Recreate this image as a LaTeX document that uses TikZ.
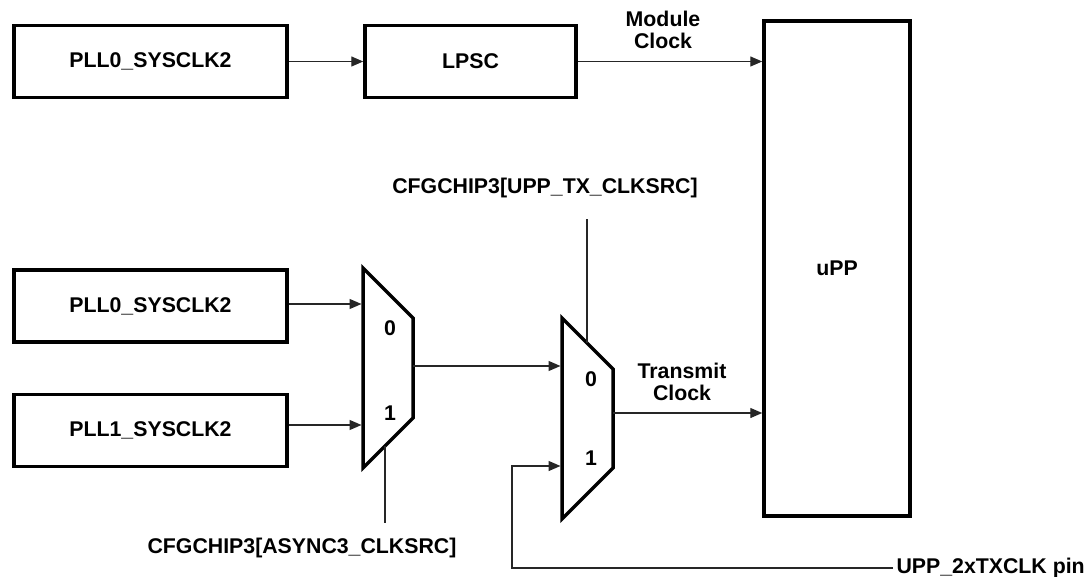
\documentclass[tikz,border=0pt]{standalone}
\usepackage{fontspec}
\setmainfont{Liberation Sans}
\usetikzlibrary{arrows.meta}

\newcommand\lblfont{\fontsize{21.3}{22.5}\selectfont\bfseries}

\tikzset{
  blk/.style={draw,line width=3.5pt,minimum width=#1,minimum height=72pt,inner sep=0pt,font=\lblfont},
  conn/.style={line width=1.3pt,draw=black!85},
  sig/.style={conn,-{Triangle[length=12pt,width=10pt]}},
  mux/.style={line width=3.5pt},
  lbl/.style={font=\lblfont,align=center}
}

\begin{document}
\begin{tikzpicture}[x=1pt,y=-1pt]
\useasboundingbox (0,0) rectangle (1092,577);

% blocks
\node[blk=273pt] (pllA) at (150.5,61.5) {PLL0\_SYSCLK2};
\node[blk=211pt] (lpsc) at (470.5,61.5) {LPSC};
\node[blk=146pt,minimum height=495pt] (upp) at (837,268.5) {uPP};
\node[blk=273pt] (pllB) at (150.5,306) {PLL0\_SYSCLK2};
\node[blk=273pt] (pllC) at (150.5,430.5) {PLL1\_SYSCLK2};

% multiplexers
\draw[mux] (363,268) -- (413,318) -- (413,418) -- (363,468) -- cycle;
\draw[mux] (562,318) -- (613,369) -- (613,468) -- (562,519) -- cycle;
\node[lbl] (m1zero) at (390,328) {0};
\node[lbl] (m1one) at (390,413) {1};
\node[lbl] (m2zero) at (591,379) {0};
\node[lbl] (m2one) at (591,458) {1};

% ports
\coordinate (m1in0) at (363,304);
\coordinate (m1in1) at (363,425);
\coordinate (m1out) at (413,366);
\coordinate (m1sel) at (385,446);
\coordinate (m1selend) at (385,523);
\coordinate (m2in0) at (562,366);
\coordinate (m2in1) at (562,466);
\coordinate (m2out) at (613,413);
\coordinate (m2sel) at (587,343);
\coordinate (m2selend) at (587,219);
\coordinate (pinbend) at (512,568);

% labels
\node[lbl] (modclk) at (663,30) {Module\\Clock};
\node[lbl] (txclk) at (682,382) {Transmit\\Clock};
\node[lbl] (txsel) at (545,188) {CFGCHIP3[UPP\_TX\_CLKSRC]};
\node[lbl] (asel) at (302,548) {CFGCHIP3[ASYNC3\_CLKSRC]};
\node[lbl,anchor=west] (pin) at (893,568) {UPP\_2xTXCLK pin};

% connections
\draw[sig] (pllA) -- (lpsc);
\draw[sig] (lpsc.east) -- (lpsc.east -| upp.west);
\draw[sig,shorten >=1.5pt] (pllB.east |- m1in0) -- (m1in0);
\draw[sig,shorten >=1.5pt] (pllC.east |- m1in1) -- (m1in1);
\draw[sig,shorten >=1.5pt] (m1out) -- (m2in0);
\draw[sig] (m2out) -- (m2out -| upp.west);
\draw[sig,shorten >=1.5pt] (pin.west) -- (pinbend) |- (m2in1);
\draw[conn] (m1sel) -- (m1selend);
\draw[conn] (m2sel) -- (m2selend);
\end{tikzpicture}
\end{document}
